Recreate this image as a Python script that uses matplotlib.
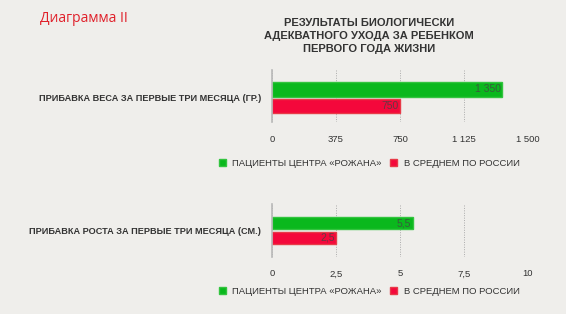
import matplotlib
matplotlib.use("Agg")
import matplotlib.pyplot as plt
from matplotlib.patches import Patch
from matplotlib.ticker import FuncFormatter

plt.rcParams['font.family'] = ['Liberation Sans', 'DejaVu Sans']

title = "РЕЗУЛЬТАТЫ БИОЛОГИЧЕСКИ\nАДЕКВАТНОГО УХОДА ЗА РЕБЕНКОМ\nПЕРВОГО ГОДА ЖИЗНИ"
corner_label = "Диаграмма II"
series_names = ["ПАЦИЕНТЫ ЦЕНТРА «РОЖАНА»", "В СРЕДНЕМ ПО РОССИИ"]

cat_weight = "ПРИБАВКА ВЕСА ЗА ПЕРВЫЕ ТРИ МЕСЯЦА (ГР.)"
weight_center = 1350
weight_russia = 750
weight_labels = ["1 350", "750"]
weight_ticks = [0, 375, 750, 1125, 1500]

cat_height = "ПРИБАВКА РОСТА ЗА ПЕРВЫЕ ТРИ МЕСЯЦА (СМ.)"
height_center = 5.5
height_russia = 2.5
height_labels = ["5,5", "2,5"]
height_ticks = [0, 2.5, 5, 7.5, 10]

BG = "#efeeeb"
GREEN = "#0ab81d"
GREEN_EDGE = "#33c43f"
RED = "#f4083b"
RED_EDGE = "#e83a48"
TXT = "#333333"

fig = plt.figure(figsize=(5.66, 3.14), dpi=100)
fig.patch.set_facecolor(BG)

fig.text(40/566, 1 - 18/314, corner_label, color="#e0202a", fontsize=10,
         ha="left", va="center", family=['Open Sans', 'DejaVu Sans'])
fig.text(369/566, 1 - 36/314, title, color=TXT, fontsize=8.0, fontweight="bold",
         ha="center", va="center", linespacing=1.4)


def fmt_num(v, pos=None):
    if float(v).is_integer():
        s = f"{int(v):,}".replace(",", " ")
    else:
        s = f"{v:g}".replace(".", ",")
    return s


def panel(rect, category, values, labels, ticks, bar_h, ylim, leg_y):
    ax = fig.add_axes(rect)
    ax.set_facecolor("none")
    pos = [-0.5, 0.5]
    colors = [GREEN, RED]
    edges = [GREEN_EDGE, RED_EDGE]
    for p, v, c, e, lab in zip(pos, values, colors, edges, labels):
        ax.barh(p, v, height=bar_h, color=c, edgecolor=e, linewidth=1.0, zorder=3)
        ax.text(v - ticks[-1] * 0.006, p, lab, ha="right", va="center",
                color="#444444", alpha=0.8, fontsize=7.5, zorder=4)
    ax.set_xlim(ticks[0], ticks[-1])
    ax.set_ylim(*ylim)
    ax.set_xticks(ticks)
    ax.xaxis.set_major_formatter(FuncFormatter(fmt_num))
    ax.tick_params(axis="x", length=0, labelsize=6.8, labelcolor=TXT, pad=9)
    ax.set_yticks([0])
    ax.set_yticklabels([category])
    ax.tick_params(axis="y", length=0, labelsize=6.6, labelcolor=TXT, pad=8)
    for t in ax.get_yticklabels():
        t.set_fontweight("bold")
    for s in ["top", "right", "bottom"]:
        ax.spines[s].set_visible(False)
    ax.spines["left"].set_color("#b8b8b8")
    ax.spines["left"].set_linewidth(1.2)
    ax.spines["left"].set_zorder(5)
    ax.grid(axis="x", linestyle=(0, (1, 1.5)), color="#aaaaaa", linewidth=0.7, zorder=1)
    ax.set_axisbelow(True)
    handles = [Patch(facecolor=GREEN, edgecolor=GREEN_EDGE),
               Patch(facecolor=RED, edgecolor=RED_EDGE)]
    fig.legend(handles, series_names, loc="center left",
               bbox_to_anchor=(210/566, 1 - leg_y/314), ncol=2, frameon=False,
               fontsize=6.8, handlelength=0.75, handleheight=0.75,
               handletextpad=0.7, columnspacing=0.9, labelcolor=TXT)
    return ax


panel([272/566, 1 - 122/314, 256/566, 52/314], cat_weight,
      [weight_center, weight_russia], weight_labels, weight_ticks,
      0.88, (1.457, -1.656), 163)
panel([272/566, 1 - 257/314, 256/566, 53/314], cat_height,
      [height_center, height_russia], height_labels, height_ticks,
      0.84, (1.86, -1.84), 291)

fig.savefig("out.png", dpi=100, facecolor=BG)
